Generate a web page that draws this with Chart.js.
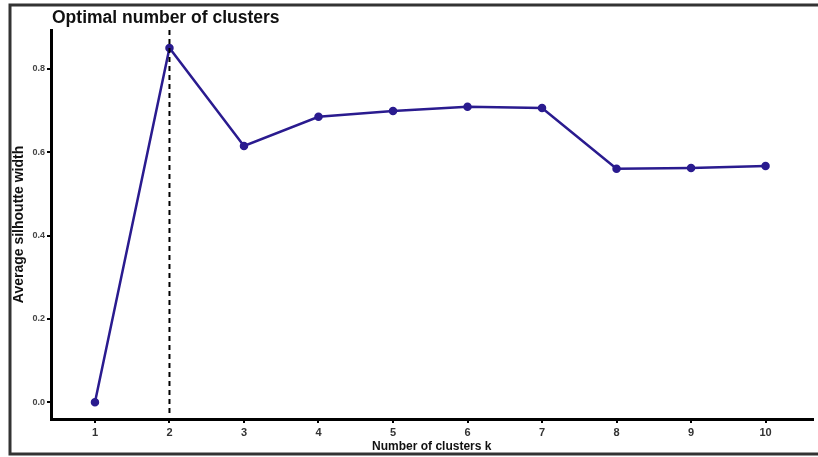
<!DOCTYPE html>
<html lang="en">
<head>
<meta charset="UTF-8">
<title>Optimal number of clusters</title>
<style>
  html, body { margin: 0; padding: 0; background: #fff; }
  #wrap { width: 818px; height: 457px; }
</style>
</head>
<body>
<div id="wrap"><canvas id="chart" width="818" height="457"></canvas></div>
<script src="https://cdn.jsdelivr.net/npm/chart.js@4.4.1/dist/chart.umd.min.js"></script>
<script>
    // data
    var clusters = [1, 2, 3, 4, 5, 6, 7, 8, 9, 10];
    var silhouette = [0.0, 0.850, 0.615, 0.685, 0.699, 0.709, 0.706, 0.560, 0.562, 0.567];
    var yTicks = [0.0, 0.2, 0.4, 0.6, 0.8];
    var optimalK = 2;

    var FONT = "'Liberation Sans', Arial, sans-serif";

    // frame, title and dashed optimum line
    var decor = {
        id: 'decor',
        beforeDraw: function (chart) {
            var ctx = chart.ctx;
            ctx.save();
            ctx.strokeStyle = '#333';
            ctx.lineWidth = 3;
            ctx.strokeRect(10, 5, 820, 449);
            ctx.restore();
        },
        afterDatasetsDraw: function (chart) {
            var ctx = chart.ctx;
            var area = chart.chartArea;
            var x = chart.scales.x.getPixelForValue(optimalK);
            ctx.save();
            ctx.strokeStyle = '#000';
            ctx.lineWidth = 2;
            ctx.setLineDash([5, 4]);
            ctx.beginPath();
            ctx.moveTo(x, area.top);
            ctx.lineTo(x, area.bottom - 6);
            ctx.stroke();
            ctx.setLineDash([]);
            ctx.fillStyle = '#111';
            ctx.font = 'bold 17.5px ' + FONT;
            ctx.textBaseline = 'alphabetic';
            ctx.fillText('Optimal number of clusters', 52, 23);
            ctx.restore();
        }
    };

    var chart = new Chart(document.getElementById('chart'), {
        type: 'line',
        data: {
            datasets: [{
                data: clusters.map(function (k, i) { return { x: k, y: silhouette[i] }; }),
                borderColor: '#2a1b8f',
                backgroundColor: '#2a1b8f',
                borderWidth: 2.5,
                pointRadius: 3,
                pointHoverRadius: 3,
                tension: 0
            }]
        },
        options: {
            responsive: false,
            animation: false,
            layout: { padding: { left: 11, right: 5, top: 30, bottom: 3 } },
            plugins: {
                legend: { display: false },
                tooltip: { enabled: false }
            },
            scales: {
                x: {
                    type: 'linear',
                    min: 0.41,
                    max: 10.63,
                    afterBuildTicks: function (s) { s.ticks = clusters.map(function (v) { return { value: v }; }); },
                    afterFit: function (s) { s.height = 35; },
                    border: { color: '#000', width: 3 },
                    grid: { drawOnChartArea: false, color: '#000', lineWidth: 2, tickLength: 4 },
                    ticks: {
                        color: '#333',
                        padding: 3,
                        font: { family: FONT, size: 11, weight: 'bold' },
                        maxRotation: 0
                    },
                    title: {
                        display: true,
                        text: 'Number of clusters k',
                        color: '#111',
                        padding: { top: 2, bottom: 0 },
                        font: { family: FONT, size: 12, weight: 'bold' }
                    }
                },
                y: {
                    min: -0.04,
                    max: 0.893,
                    afterBuildTicks: function (s) { s.ticks = yTicks.map(function (v) { return { value: v }; }); },
                    afterFit: function (s) { s.width = 40; },
                    border: { color: '#000', width: 3 },
                    grid: { drawOnChartArea: false, color: '#000', lineWidth: 2, tickLength: 4 },
                    ticks: {
                        color: '#444',
                        padding: 2,
                        font: { family: FONT, size: 9, weight: 'bold' },
                        callback: function (v) { return v.toFixed(1); }
                    },
                    title: {
                        display: true,
                        text: 'Average silhoutte width',
                        color: '#111',
                        padding: { top: 0, bottom: 1 },
                        font: { family: FONT, size: 14, weight: 'bold' }
                    }
                }
            }
        },
        plugins: [decor]
    });
</script>
</body>
</html>
